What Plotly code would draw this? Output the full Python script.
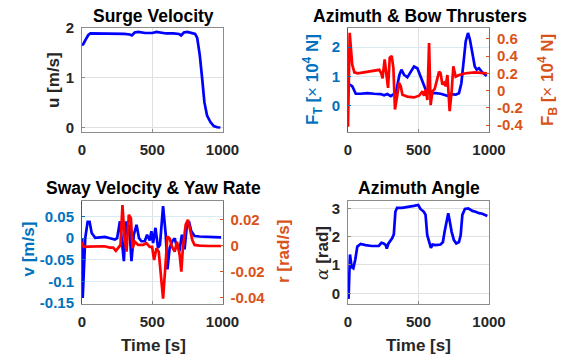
import plotly.graph_objects as go

# ---------------- data ----------------
surge_t = [0, 10, 25, 45, 60, 100, 200, 300, 340, 355, 375, 400, 450, 500, 530, 560, 600, 650, 690, 705,
           725, 750, 790, 805, 820, 838, 855, 871, 890, 914, 938, 962, 985]
surge_u = [1.65, 1.68, 1.76, 1.86, 1.89, 1.89, 1.89, 1.88, 1.87, 1.85, 1.91, 1.92, 1.90, 1.90, 1.92, 1.91, 1.89, 1.89, 1.88, 1.85,
           1.91, 1.92, 1.90, 1.88, 1.80, 1.46, 0.99, 0.51, 0.24, 0.11, 0.03, 0.005, 0.0]

ft_t = [0, 14, 31, 55, 90, 137, 185, 232, 256, 279, 303, 326, 340, 352, 365, 379, 397, 421, 445, 468,
        492, 516, 535, 551, 567, 586, 622, 657, 705, 728, 764, 787, 804, 820, 835, 851, 865, 882, 899, 913,
        929, 953, 984]
ft_val = [0.74, 0.72, 0.66, 0.41, 0.41, 0.43, 0.41, 0.40, 0.36, 0.40, 0.33, 0.41, 0.45, 0.75, 1.06, 1.23, 1.06, 0.97, 1.17, 1.34,
          1.28, 1.00, 0.72, 0.55, 0.48, 0.43, 0.43, 0.41, 0.34, 0.40, 0.38, 0.43, 0.77, 1.50, 2.20, 2.48, 2.25, 1.80, 1.34, 1.23,
          1.28, 1.13, 1.02]

fb_t = [0, 12, 30, 45, 69, 104, 152, 200, 222, 236, 245, 260, 272, 284, 296, 310, 322, 333, 350, 362,
        374, 386, 421, 468, 504, 528, 539, 551, 563, 575, 586, 599, 615, 634, 646, 657, 669, 681, 693, 705,
        721, 735, 747, 764, 787, 835, 900, 985]
fb_val = [-0.42, 0.67, 0.30, 0.21, 0.20, 0.21, 0.22, 0.23, 0.24, 0.20, 0.14, 0.36, 0.18, 0.03, 0.38, 0.40, 0.26, -0.22, -0.05, 0.09,
          0.05, -0.05, -0.07, -0.08, -0.06, -0.01, -0.06, 0.01, -0.11, 0.55, -0.17, -0.01, 0.02, 0.14, 0.22, 0.20, 0.07, 0.09, 0.05, 0.18,
          -0.24, -0.01, 0.28, 0.16, 0.18, 0.20, 0.21, 0.20]

v_t = [0, 5, 16, 23, 40, 54, 69, 94, 130, 163, 199, 234, 250, 270, 282, 298, 312, 324, 336, 352,
       369, 388, 406, 423, 447, 463, 482, 494, 506, 523, 541, 555, 577, 596, 608, 624, 643, 660, 676, 695,
       711, 730, 747, 761, 778, 801, 837, 900, 990]
v_val = [0.0, -0.138, -0.054, 0.0, 0.038, 0.038, 0.012, 0.001, 0.002, 0.003, 0.0, -0.003, 0.0, 0.039, 0.0, -0.053, 0.039, 0.008, 0.031, -0.053,
         0.008, 0.031, 0.0, -0.007, -0.007, 0.008, -0.005, 0.016, -0.011, 0.024, -0.022, -0.015, 0.074, 0.008, -0.072, -0.022, -0.007, 0.0, -0.022, -0.026,
         0.008, -0.026, 0.031, 0.039, 0.016, 0.005, 0.004, 0.003, 0.002]

r_t = [0, 12, 40, 80, 120, 160, 199, 222, 241, 258, 274, 288, 303, 317, 333, 348, 360, 376, 400, 435,
       459, 482, 499, 513, 530, 546, 560, 577, 594, 608, 624, 641, 660, 676, 695, 707, 718, 738, 754, 771,
       785, 801, 836, 900, 990]
r_val = [0.003, -0.001, -0.0008, -0.0008, -0.0008, -0.0005, -0.0015, -0.0015, -0.004, -0.0015, 0.0005, 0.031, 0.0056, -0.0046, 0.0236, 0.021, -0.002, 0.003, 0.0005, 0.0005,
         0.0018, -0.001, -0.001, -0.011, -0.002, -0.0046, -0.020, -0.0407, -0.015, 0.007, 0.0055, -0.001, -0.0046, 0.003, -0.007, -0.020, -0.002, 0.016, 0.0198, 0.0108,
         0.0043, 0.0005, 0.0, -0.0003, -0.0003]

az_t = [0, 4, 14, 26, 38, 52, 66, 90, 124, 168, 218, 237, 253, 268, 275, 287, 313, 325, 336, 348,
        384, 431, 467, 498, 514, 538, 550, 562, 578, 588, 600, 621, 656, 673, 685, 699, 711, 720, 735, 751,
        768, 787, 799, 811, 829, 853, 882, 905, 929, 953, 976, 988]
az_val = [0.27, -0.2, 1.37, 0.92, 0.88, 1.2, 1.65, 1.74, 1.70, 1.67, 1.67, 1.78, 1.76, 1.70, 1.58, 1.76, 1.94, 2.08, 2.88, 3.02,
          3.02, 3.05, 3.09, 3.12, 2.98, 2.88, 2.77, 2.05, 1.70, 1.60, 1.72, 1.70, 1.72, 1.81, 2.17, 2.53, 2.83, 2.59, 2.17, 1.88,
          1.76, 1.81, 2.05, 2.77, 2.98, 3.00, 2.91, 2.88, 2.83, 2.81, 2.74, 2.73]

x_ticks = [0, 500, 1000]
x_ticktext = ["0", "500", "1000"]
u_ticks = [0, 1, 2]
ft_ticks = [0, 1, 2]
fb_ticks = [-0.4, -0.2, 0, 0.2, 0.4, 0.6]
fb_ticktext = ["-0.4", "-0.2", "0", "0.2", "0.4", "0.6"]
v_ticks = [-0.15, -0.1, -0.05, 0, 0.05]
v_ticktext = ["-0.15", "-0.1", "-0.05", "0", "0.05"]
r_ticks = [-0.04, -0.02, 0, 0.02]
r_ticktext = ["-0.04", "-0.02", "0", "0.02"]
az_ticks = [0, 1, 2, 3]

titles = ["Surge Velocity", "Azimuth & Bow Thrusters", "Sway Velocity & Yaw Rate", "Azimuth Angle"]

# ---------------- styling ----------------
W, H = 564, 357
FONT = "Liberation Sans"
BLUE_LINE = "#0000FF"
RED_LINE = "#FF0000"
LEFT_C = "#0072BD"
RIGHT_C = "#D95319"
DARK = "#262626"
FRAME = "#8c8c8c"
GRID = "#e0e0e0"
GRID_BLUE = "#d9eaf5"
TICK_SIZE = 15
LABEL_SIZE = 17
TITLE_SIZE = 17.5
LW = 2.7


def px_x(a, b):
    return [a / W, b / W]


def px_y(top, bottom):
    return [1 - bottom / H, 1 - top / H]


def tfont(color=DARK, size=TICK_SIZE):
    return dict(family=FONT, size=size, color=color, weight="bold")


def xaxis(dom, anchor):
    return dict(domain=dom, anchor=anchor, range=[0, 1000], tickvals=x_ticks, ticktext=x_ticktext,
                showgrid=True, gridcolor=GRID, gridwidth=1, zeroline=False,
                showline=True, linecolor=FRAME, linewidth=1, mirror=True,
                ticks="inside", ticklen=3, tickcolor=FRAME, tickfont=tfont(), ticklabelstandoff=4)


def yaxis(dom, anchor, rng, tv, tt=None, color=DARK, line=FRAME, grid=GRID, side="left", overlay=None, mirror=True, showgrid=True):
    d = dict(domain=dom, anchor=anchor, range=rng, tickvals=tv, showgrid=showgrid, gridcolor=grid, gridwidth=1,
             zeroline=False, showline=True, linecolor=line, linewidth=1, mirror=mirror, side=side,
             ticks="inside", ticklen=3, tickcolor=line, tickfont=tfont(color), ticklabelstandoff=4)
    if tt is not None:
        d["ticktext"] = tt
    if overlay:
        d["overlaying"] = overlay
        d.pop("domain")
    return d


fig = go.Figure()
fig.add_trace(go.Scatter(x=surge_t, y=surge_u, mode="lines", line=dict(color=BLUE_LINE, width=LW), xaxis="x", yaxis="y"))
fig.add_trace(go.Scatter(x=ft_t, y=ft_val, mode="lines", line=dict(color=BLUE_LINE, width=LW), xaxis="x2", yaxis="y2"))
fig.add_trace(go.Scatter(x=fb_t, y=fb_val, mode="lines", line=dict(color=RED_LINE, width=LW), xaxis="x2", yaxis="y3"))
fig.add_trace(go.Scatter(x=v_t, y=v_val, mode="lines", line=dict(color=BLUE_LINE, width=LW), xaxis="x3", yaxis="y4"))
fig.add_trace(go.Scatter(x=r_t, y=r_val, mode="lines", line=dict(color=RED_LINE, width=LW), xaxis="x3", yaxis="y5"))
fig.add_trace(go.Scatter(x=az_t, y=az_val, mode="lines", line=dict(color=BLUE_LINE, width=LW), xaxis="x4", yaxis="y6"))

row1 = px_y(28, 131.5)
row2 = px_y(201, 304)
colL = px_x(82, 222.5)
colR = px_x(348, 489)

layout = dict(
    width=W, height=H, margin=dict(l=0, r=0, t=0, b=0, autoexpand=False),
    paper_bgcolor="white", plot_bgcolor="white", showlegend=False,
    xaxis=xaxis(colL, "y"),
    yaxis=yaxis(row1, "x", [-0.08, 2.0], u_ticks),
    xaxis2=xaxis(colR, "y2"),
    yaxis2=yaxis(row1, "x2", [-0.875, 2.65], ft_ticks, color=LEFT_C, line=LEFT_C, grid=GRID_BLUE, mirror=False),
    yaxis3=yaxis(row1, "x2", [-0.475, 0.725], fb_ticks, fb_ticktext, color=RIGHT_C, line=RIGHT_C, side="right",
                 overlay="y2", mirror=False, showgrid=False),
    xaxis3=xaxis(colL, "y4"),
    yaxis4=yaxis(row2, "x3", [-0.152, 0.086], v_ticks, v_ticktext, color=LEFT_C, line=LEFT_C, grid=GRID_BLUE, mirror=False),
    yaxis5=yaxis(row2, "x3", [-0.0448, 0.0342], r_ticks, r_ticktext, color=RIGHT_C, line=RIGHT_C, side="right",
                 overlay="y4", mirror=False, showgrid=False),
    xaxis4=xaxis(colR, "y6"),
    yaxis6=yaxis(row2, "x4", [-0.38, 3.26], az_ticks),
)
fig.update_layout(**layout)


def ann(text, x, y, size, color=DARK, angle=0):
    fig.add_annotation(text=text, x=x / W, y=1 - y / H, xref="paper", yref="paper", showarrow=False,
                       xanchor="center", yanchor="middle", textangle=angle,
                       font=dict(family=FONT, size=size, color=color, weight="bold"))


# titles
ann(titles[0], 153, 16, TITLE_SIZE, "#000000")
ann(titles[1], 419.5, 16, TITLE_SIZE, "#000000")
ann(titles[2], 153, 188, TITLE_SIZE, "#000000")
ann(titles[3], 418.7, 188, TITLE_SIZE, "#000000")

thin = '<span style="font-weight:normal">×</span>'
ann("u [m/s]", 53, 80, LABEL_SIZE, DARK, -90)
ann("F<sub>T</sub> [" + thin + " 10<sup>4</sup> N]", 312, 80, LABEL_SIZE, LEFT_C, -90)
ann("F<sub>B</sub> [" + thin + " 10<sup>4</sup> N]", 547, 80, LABEL_SIZE, RIGHT_C, -90)
ann("v [m/s]", 27.5, 249, LABEL_SIZE, LEFT_C, -90)
ann("r [rad/s]", 283, 252, LABEL_SIZE, RIGHT_C, -90)
ann('<span style="font-family:DejaVu Serif;font-style:italic;font-weight:normal">α</span> [rad]', 322, 253, LABEL_SIZE, DARK, -90)
ann("Time [s]", 153.5, 345, LABEL_SIZE)
ann("Time [s]", 418.7, 345, LABEL_SIZE)

fig.write_html("out.html", config={"displayModeBar": False},
               post_script="document.body.style.margin='0px';document.body.style.overflow='hidden';")
